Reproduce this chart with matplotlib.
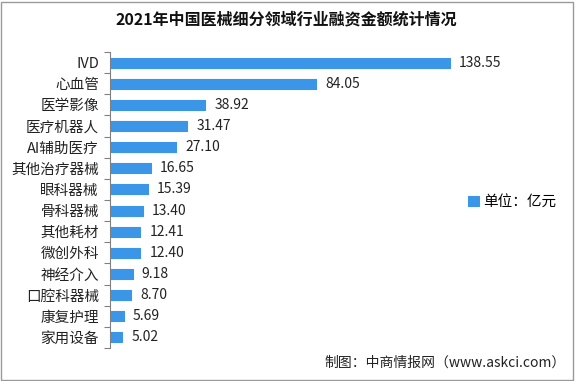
import matplotlib
matplotlib.use('Agg')
import matplotlib.pyplot as plt
from matplotlib.patches import Rectangle

plt.rcParams['font.family'] = ['Noto Sans CJK SC', 'DejaVu Sans']

# data
categories = ['IVD', '心血管', '医学影像', '医疗机器人', 'AI辅助医疗', '其他治疗器械', '眼科器械',
              '骨科器械', '其他耗材', '微创外科', '神经介入', '口腔科器械', '康复护理', '家用设备']
values = [138.55, 84.05, 38.92, 31.47, 27.10, 16.65, 15.39, 13.40, 12.41, 12.40, 9.18, 8.70, 5.69, 5.02]
value_labels = ['138.55', '84.05', '38.92', '31.47', '27.10', '16.65', '15.39', '13.40', '12.41',
                '12.40', '9.18', '8.70', '5.69', '5.02']
title = '2021年中国医械细分领域行业融资金额统计情况'
unit = '单位：亿元'
source = '制图：中商情报网（www.askci.com）'

bar_color = '#3c96e8'

W, H = 576, 381
fig = plt.figure(figsize=(W / 100, H / 100), dpi=100)
ax = fig.add_axes([110 / W, 1 - 348 / H, 450 / W, 296 / H])

pos = list(range(len(categories)))
ax.barh(pos, values, height=0.47, color=bar_color, edgecolor=bar_color,
        linewidth=0.8, joinstyle='round', label=unit)

for p, v, t in zip(pos, values, value_labels):
    ax.annotate(t, (v, p), xytext=(6.5, 0), textcoords='offset points',
                va='center', ha='left', fontsize=10, color='#222222')

ax.set_xlim(0, 183.4)
ax.set_ylim(len(categories) - 0.5, -0.5)

ax.set_yticks(pos)
ax.set_yticklabels(categories, fontsize=10.5, color='#222222')
ax.tick_params(axis='y', which='major', length=0, pad=8)
ax.set_yticks([i - 0.5 for i in range(len(categories) + 1)], minor=True)
ax.tick_params(axis='y', which='minor', length=4, width=0.8, color='#808080', direction='out')
ax.set_xticks([])

for s in ['top', 'right', 'bottom']:
    ax.spines[s].set_visible(False)
ax.spines['left'].set_color('#808080')
ax.spines['left'].set_linewidth(0.8)

ax.legend(loc='center right', bbox_to_anchor=(564 / W, 1 - 202 / H),
          bbox_transform=fig.transFigure, frameon=False, fontsize=10.5,
          handlelength=0.75, handleheight=0.75, handletextpad=0.3, borderpad=0)

fig.text(286 / W, 1 - 19 / H, title, ha='center', va='center', fontsize=11.5,
         fontweight='bold', color='#111111')
fig.text(566 / W, 1 - 363 / H, source, ha='right', va='center', fontsize=10, color='#222222')

# grey frame around the picture
fig.patches.append(Rectangle((1 / W, 1 / H), 572 / W, 378 / H, transform=fig.transFigure,
                             fill=False, edgecolor='#9a9a9a', linewidth=1))

fig.savefig('out.png', dpi=100)
